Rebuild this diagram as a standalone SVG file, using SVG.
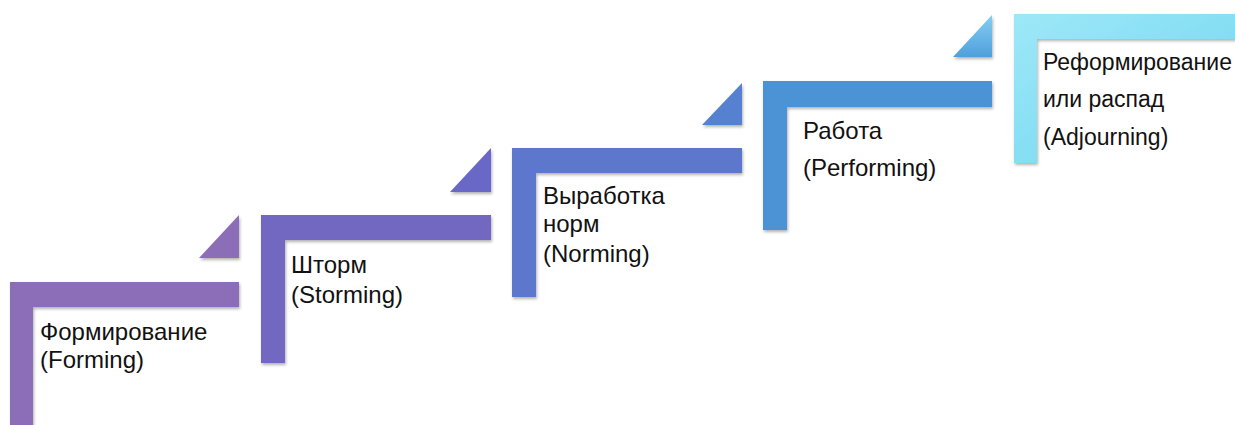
<svg xmlns="http://www.w3.org/2000/svg" width="1235" height="425" viewBox="0 0 1235 425">
<style>
.t{font-family:"Liberation Sans",Arial,sans-serif;font-size:24px;fill:#111111}
.t5{font-size:23px}
</style>
<defs>
<filter id="sh" x="-10%" y="-10%" width="130%" height="130%">
<feDropShadow dx="1" dy="2" stdDeviation="1.5" flood-color="#000" flood-opacity="0.3"/>
</filter>
<linearGradient id="g4" x1="0" y1="0" x2="0" y2="1">
<stop offset="0" stop-color="#86cff2"/>
<stop offset="1" stop-color="#4f9fdc"/>
</linearGradient>
<linearGradient id="g5" x1="0" y1="0" x2="1" y2="1">
<stop offset="0" stop-color="#9de8f8"/>
<stop offset="1" stop-color="#6fd5ee"/>
</linearGradient>
</defs>
<rect width="1235" height="425" fill="#ffffff"/>
<g id="step1" filter="url(#sh)">
<path d="M10,282 H239 V307 H33 V430 H10 Z" fill="#8c6db8"/>
<path d="M199,258 H239 V215 Z" fill="#8c6db8"/>
</g>
<g id="step2" filter="url(#sh)">
<path d="M261,215 H491 V240 H285 V363 H261 Z" fill="#7267c1"/>
<path d="M450,192 H491 V148 Z" fill="#6a68c6"/>
</g>
<g id="step3" filter="url(#sh)">
<path d="M512,148 H742 V173 H536 V297 H512 Z" fill="#5b77cb"/>
<path d="M702,125 H742 V83 Z" fill="#5681d0"/>
</g>
<g id="step4" filter="url(#sh)">
<path d="M763,81 H992 V107 H787 V230 H763 Z" fill="#4c93d4"/>
<path d="M953,57 H992 V15 Z" fill="url(#g4)"/>
</g>
<g id="step5" filter="url(#sh)">
<path d="M1014,14 H1245 V39 H1037 V163 H1014 Z" fill="url(#g5)"/>
</g>
<g id="labels">
<text class="t" x="40" y="340">Формирование</text>
<text class="t" x="40" y="368">(Forming)</text>
<text class="t" x="291" y="273">Шторм</text>
<text class="t" x="291" y="303">(Storming)</text>
<text class="t" x="543" y="204">Выработка</text>
<text class="t" x="543" y="232">норм</text>
<text class="t" x="543" y="262">(Norming)</text>
<text class="t" x="803" y="139">Работа</text>
<text class="t" x="803" y="176">(Performing)</text>
<text class="t t5" x="1043" y="70">Реформирование</text>
<text class="t t5" x="1043" y="107">или распад</text>
<text class="t t5" x="1043" y="145">(Adjourning)</text>
</g>
</svg>
